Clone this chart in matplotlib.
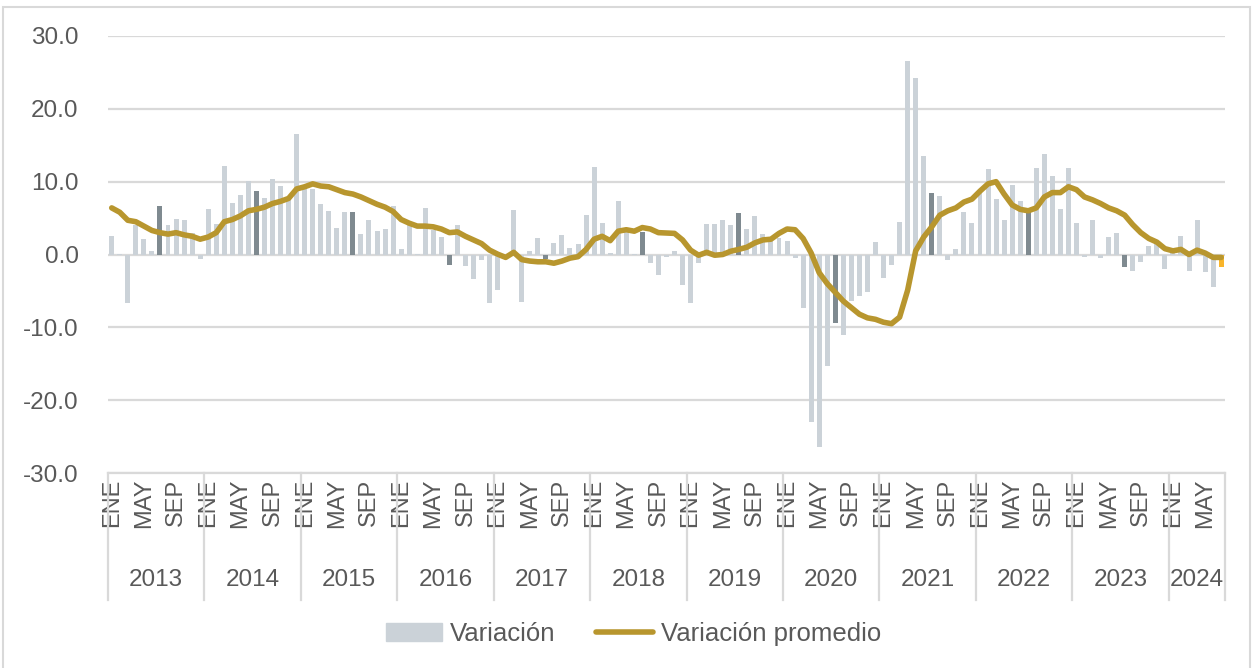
import numpy as np
import matplotlib.pyplot as plt
import matplotlib.transforms as mtransforms
from matplotlib.patches import Rectangle
from matplotlib.lines import Line2D
from matplotlib.patches import Patch

plt.rcParams['font.family'] = ['Liberation Sans', 'DejaVu Sans']

years = [2013, 2014, 2015, 2016, 2017, 2018, 2019, 2020, 2021, 2022, 2023, 2024]
months_per_year = [12, 12, 12, 12, 12, 12, 12, 12, 12, 12, 12, 7]
month_labels = ['ENE', '', '', '', 'MAY', '', '', '', 'SEP', '', '', '']

# monthly variation (bars), Jan 2013 .. Jul 2024
variacion = [
    2.5, 0.1, -6.7, 4.0, 2.1, 0.45, 6.6, 4.0, 4.9, 4.8, 2.95, -0.6,      # 2013
    6.2, 4.2, 12.1, 7.1, 8.2, 10.1, 8.7, 7.7, 10.4, 9.4, 7.6, 16.5,      # 2014
    9.2, 9.0, 7.0, 6.0, 3.6, 5.8, 5.9, 2.8, 4.8, 3.2, 3.5, 6.6,          # 2015
    0.7, 4.0, 0.1, 6.4, 3.3, 2.4, -1.5, 4.1, -1.6, -3.3, -0.8, -6.7,     # 2016
    -4.9, -0.2, 6.1, -6.5, 0.5, 2.3, -0.6, 1.6, 2.7, 0.9, 1.4, 5.4,      # 2017
    12.0, 4.3, 0.2, 7.4, 3.3, 0.1, 3.1, -1.1, -2.8, -0.4, 0.5, -4.2,     # 2018
    -6.7, -1.2, 4.2, 4.2, 4.7, 4.0, 5.7, 3.5, 5.3, 2.8, 2.0, 2.2,        # 2019
    1.8, -0.45, -7.4, -23.0, -26.4, -15.3, -9.4, -11.1, -6.4, -5.7, -5.1, 1.7,  # 2020
    -3.2, -1.5, 4.4, 26.5, 24.3, 13.5, 8.4, 8.0, -0.7, 0.8, 5.9, 4.3,    # 2021
    8.5, 11.8, 7.6, 4.8, 9.6, 7.3, 5.8, 11.9, 13.8, 10.8, 6.2, 11.9,     # 2022
    4.3, -0.3, 4.7, -0.45, 2.4, 3.0, -1.7, -2.2, -1.0, 1.1, 1.7, -2.0,   # 2023
    0.3, 2.6, -2.2, 4.8, -2.4, -4.4, -1.7,                               # 2024
]

# average variation (line)
promedio = [
    6.4, 5.8, 4.7, 4.5, 3.9, 3.3, 3.0, 2.8, 3.0, 2.7, 2.5, 2.1,
    2.4, 3.0, 4.5, 4.8, 5.3, 6.0, 6.2, 6.5, 7.0, 7.3, 7.7, 9.0,
    9.3, 9.7, 9.4, 9.3, 8.9, 8.5, 8.3, 7.9, 7.4, 6.9, 6.5, 5.9,
    4.8, 4.3, 3.9, 3.9, 3.8, 3.5, 3.0, 3.1, 2.5, 2.0, 1.5, 0.6,
    0.05, -0.4, 0.3, -0.7, -0.9, -1.0, -1.0, -1.2, -0.9, -0.5, -0.3, 0.7,
    2.1, 2.5, 1.9, 3.2, 3.4, 3.2, 3.7, 3.5, 3.0, 2.95, 2.9, 2.0,
    0.6, -0.1, 0.3, -0.1, 0.0, 0.45, 0.7, 1.0, 1.6, 2.0, 2.1, 2.9,
    3.5, 3.4, 2.2, 0.2, -2.5, -4.0, -5.2, -6.4, -7.3, -8.2, -8.7, -8.9,
    -9.3, -9.5, -8.6, -4.9, 0.5, 2.4, 3.8, 5.4, 6.0, 6.4, 7.2, 7.6,
    8.7, 9.7, 10.0, 8.3, 6.8, 6.2, 6.0, 6.4, 7.9, 8.5, 8.5, 9.3,
    8.9, 7.9, 7.5, 7.0, 6.4, 6.0, 5.4, 4.1, 3.0, 2.2, 1.7, 0.8,
    0.5, 0.7, 0.0, 0.6, 0.2, -0.4, -0.4,
]

light = '#cbd2d8'
dark = '#7f8a90'
highlight = '#f9b52a'
gold = '#b8962e'
grid = '#d9d9d9'
txt = '#595959'

n = len(variacion)
x = np.arange(n)
month_idx = np.concatenate([np.arange(m) for m in months_per_year])
colors = [dark if m == 6 else light for m in month_idx]
colors[-1] = highlight

fig = plt.figure(figsize=(12.54, 6.68), dpi=100)
ax = fig.add_axes([107.7 / 1254, 1 - 473 / 668, (1225.2 - 107.7) / 1254, (473 - 36) / 668])

ax.bar(x, variacion, width=0.62, color=colors, zorder=2)
ax.plot(x, promedio, color=gold, linewidth=4, solid_capstyle='round', zorder=3)

ax.set_xlim(-0.5, n - 0.5)
ax.set_ylim(-30, 30)
ax.set_yticks(np.arange(-30, 31, 10))
ax.set_yticklabels(['%.1f' % v for v in np.arange(-30, 31, 10)])
ax.yaxis.grid(True, color=grid, linewidth=1.6, zorder=0)
ax.set_axisbelow(True)
for s in ['top', 'right', 'left']:
    ax.spines[s].set_visible(False)
ax.spines['bottom'].set_color(grid)
ax.spines['bottom'].set_linewidth(1.6)
ax.tick_params(axis='y', length=0, labelsize=17.5, labelcolor=txt, pad=21)

ticks = [i for i in range(n) if month_labels[month_idx[i]]]
ax.set_xticks(ticks)
ax.set_xticklabels([month_labels[month_idx[i]] for i in ticks], rotation=90, va='top', ha='center')
ax.tick_params(axis='x', length=0, labelsize=17, labelcolor=txt, pad=4)

trans = mtransforms.blended_transform_factory(ax.transData, ax.transAxes)
start = 0
bounds = [-0.5]
for yr, m in zip(years, months_per_year):
    ax.text(start + m / 2 - 0.5, -0.245, str(yr), transform=trans, ha='center', va='center',
            fontsize=17.5, color=txt)
    start += m
    bounds.append(start - 0.5)
for b in bounds:
    ax.plot([b, b], [0, -0.29], transform=trans, color=grid, linewidth=1.6, clip_on=False)

handles = [Patch(color=light), Line2D([0], [0], color=gold, linewidth=4, solid_capstyle='round')]
fig.legend(handles, ['Variación', 'Variación promedio'], loc='center', bbox_to_anchor=(0.505, 0.051),
           ncol=2, frameon=False, fontsize=18.5, labelcolor=txt, handlelength=2.2, handleheight=0.75,
           columnspacing=1.6, handletextpad=0.3)

fig.patches.append(Rectangle((3 / 1254, -0.01), 1247 / 1254, 1 - 7 / 668 + 0.01,
                             transform=fig.transFigure, fill=False, edgecolor=grid, linewidth=1.5))

fig.savefig('out.png', dpi=100)
